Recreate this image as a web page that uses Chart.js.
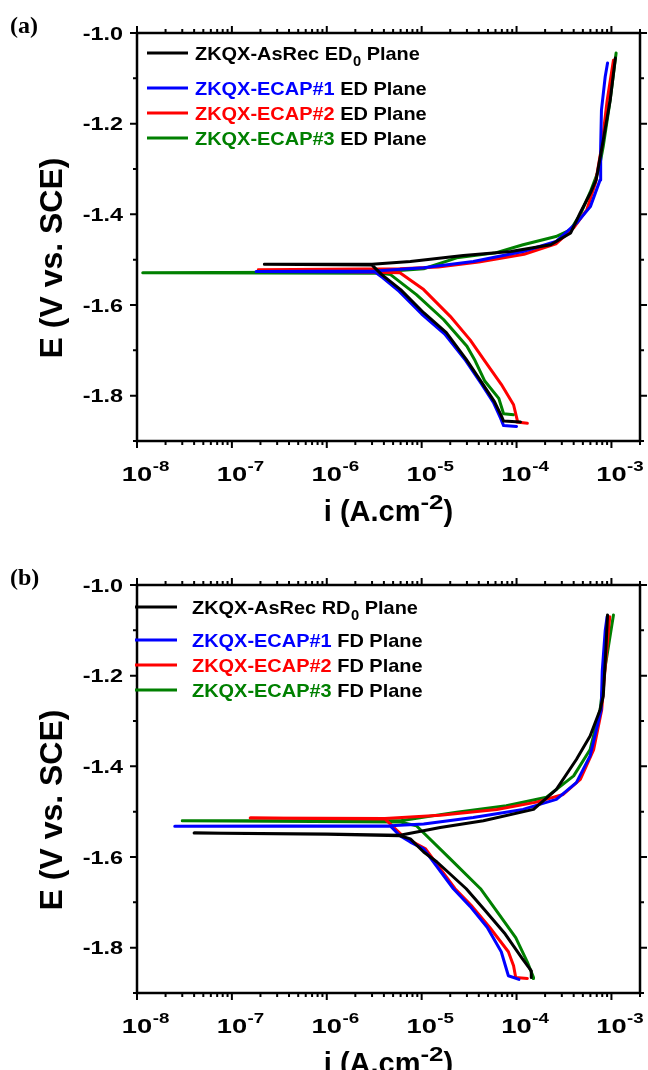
<!DOCTYPE html>
<html>
<head>
<meta charset="utf-8">
<title>Polarization curves</title>
<script src="https://cdn.jsdelivr.net/npm/chart.js@4.4.1/dist/chart.umd.min.js"></script>
<style>
  html, body { margin: 0; padding: 0; background: #fff; overflow: hidden; }
  #wrap { position: relative; width: 648px; height: 1070px; overflow: hidden; }
  .panel { position: absolute; left: 0; width: 648px; height: 535px; }
</style>
</head>
<body>
<div id="wrap">
  <div class="panel" style="top:0"><canvas id="chartA"></canvas></div>
  <div class="panel" style="top:552px"><canvas id="chartB"></canvas></div>
</div>
<script>
// axis ticks
var decades = [-8, -7, -6, -5, -4, -3];
var yTicks = [-1.0, -1.2, -1.4, -1.6, -1.8];
var yMinor = [-1.1, -1.3, -1.5, -1.7, -1.9];

var names = ['ZKQX-AsRec', 'ZKQX-ECAP#1', 'ZKQX-ECAP#2', 'ZKQX-ECAP#3'];
var colors = ['#000000', '#0000ff', '#ff0000', '#008000'];

// panel (a): current density i (A/cm2) and potential E (V vs SCE), in scan order
var aAsRecI = [1.1e-4, 7.3e-5, 6.9e-5, 5.85e-5, 4.17e-5, 2.95e-5, 1.82e-5, 1.05e-5, 6.0e-6, 3.8e-6, 3.0e-6, 2.2e-7, 3.0e-6, 7.6e-6, 2.75e-5, 8.7e-5, 2.29e-4, 3.72e-4, 4.68e-4, 6.0e-4, 6.9e-4, 8.2e-4, 9.7e-4, 1.1e-3];
var aAsRecE = [-1.858, -1.856, -1.844, -1.813, -1.767, -1.720, -1.661, -1.617, -1.566, -1.533, -1.512, -1.510, -1.510, -1.504, -1.491, -1.482, -1.467, -1.441, -1.397, -1.353, -1.324, -1.236, -1.148, -1.055];
var aEcap1I = [1.0e-4, 7.3e-5, 6.8e-5, 5.7e-5, 4.3e-5, 2.9e-5, 1.75e-5, 1.0e-5, 5.8e-6, 3.9e-6, 3.2e-6, 1.8e-7, 3.2e-6, 1.05e-5, 3.5e-5, 1.17e-4, 2.6e-4, 4.3e-4, 6.0e-4, 7.6e-4, 7.7e-4, 7.85e-4, 8.6e-4, 9.1e-4];
var aEcap1E = [-1.868, -1.866, -1.850, -1.815, -1.775, -1.722, -1.664, -1.620, -1.570, -1.540, -1.527, -1.526, -1.525, -1.518, -1.504, -1.482, -1.460, -1.419, -1.383, -1.324, -1.251, -1.170, -1.096, -1.066];
var aEcap2I = [1.3e-4, 1.0e-4, 1.02e-4, 9.3e-5, 6.9e-5, 4.5e-5, 3.24e-5, 2.0e-5, 1.05e-5, 5.9e-6, 1.9e-7, 5.9e-6, 1.5e-5, 4.0e-5, 1.2e-4, 2.6e-4, 4.0e-4, 5.5e-4, 6.8e-4, 7.9e-4, 9.0e-4, 1.05e-3];
var aEcap2E = [-1.861, -1.858, -1.855, -1.820, -1.775, -1.720, -1.677, -1.625, -1.566, -1.529, -1.522, -1.520, -1.516, -1.505, -1.488, -1.465, -1.430, -1.390, -1.330, -1.250, -1.150, -1.060];
var aEcap3I = [9.3e-5, 7.3e-5, 6.5e-5, 4.6e-5, 3.6e-5, 3.0e-5, 1.7e-5, 8.8e-6, 4.7e-6, 3.8e-6, 1.15e-8, 3.5e-6, 1.05e-5, 2.34e-5, 6.0e-5, 1.17e-4, 2.6e-4, 3.7e-4, 4.7e-4, 6.0e-4, 7.4e-4, 8.2e-4, 9.7e-4, 1.12e-3];
var aEcap3E = [-1.842, -1.840, -1.806, -1.767, -1.720, -1.691, -1.632, -1.577, -1.533, -1.530, -1.529, -1.527, -1.520, -1.496, -1.485, -1.467, -1.449, -1.434, -1.400, -1.350, -1.300, -1.250, -1.148, -1.044];

// panel (b)
var bAsRecI = [1.43e-4, 1.43e-4, 1.15e-4, 7.6e-5, 4.57e-5, 2.95e-5, 1.45e-5, 1.05e-5, 7.6e-6, 5.9e-6, 1.0e-6, 4.0e-8, 1.0e-6, 5.9e-6, 1.57e-5, 4.47e-5, 1.51e-4, 2.63e-4, 4.27e-4, 5.96e-4, 7.6e-4, 8.2e-4, 8.7e-4, 9.1e-4];
var bAsRecE = [-1.866, -1.851, -1.824, -1.770, -1.716, -1.670, -1.611, -1.589, -1.560, -1.553, -1.550, -1.547, -1.549, -1.552, -1.535, -1.520, -1.495, -1.451, -1.385, -1.333, -1.275, -1.245, -1.150, -1.066];
var bEcap1I = [1.06e-4, 8.2e-5, 6.9e-5, 4.9e-5, 3.24e-5, 2.16e-5, 1.05e-5, 7.6e-6, 5.9e-6, 4.7e-6, 2.5e-8, 4.7e-6, 1.05e-5, 3.5e-5, 1.17e-4, 2.63e-4, 4.27e-4, 5.96e-4, 7.8e-4, 8.0e-4, 8.6e-4, 9.0e-4];
var bEcap1E = [-1.870, -1.862, -1.809, -1.755, -1.709, -1.670, -1.582, -1.567, -1.553, -1.532, -1.532, -1.531, -1.527, -1.513, -1.495, -1.473, -1.436, -1.377, -1.275, -1.190, -1.100, -1.070];
var bEcap2I = [1.3e-4, 9.8e-5, 9.3e-5, 8.2e-5, 5.2e-5, 3.4e-5, 2.25e-5, 1.1e-5, 6.5e-6, 4.1e-6, 1.56e-7, 4.1e-6, 1.57e-5, 6.2e-5, 1.62e-4, 3.1e-4, 4.7e-4, 6.5e-4, 7.9e-4, 8.6e-4, 9.6e-4];
var bEcap2E = [-1.868, -1.866, -1.840, -1.809, -1.755, -1.709, -1.670, -1.582, -1.556, -1.516, -1.514, -1.515, -1.508, -1.495, -1.479, -1.462, -1.429, -1.363, -1.275, -1.180, -1.070];
var bEcap3I = [1.5e-4, 1.51e-4, 1.3e-4, 9.8e-5, 6.4e-5, 4.17e-5, 2.0e-5, 8.8e-6, 6.0e-6, 3.0e-8, 6.0e-6, 2.34e-5, 7.8e-5, 2.07e-4, 4.0e-4, 5.96e-4, 7.6e-4, 8.6e-4, 1.05e-3];
var bEcap3E = [-1.868, -1.866, -1.832, -1.778, -1.724, -1.670, -1.604, -1.531, -1.523, -1.520, -1.520, -1.501, -1.487, -1.468, -1.421, -1.363, -1.275, -1.180, -1.066];

var SANS = '"Liberation Sans", Arial, sans-serif';

function pts(xs, ys) {
  return xs.map(function (x, k) { return { x: x, y: ys[k] }; });
}

// bold text with a horizontal stretch, returns drawn width
function sText(ctx, s, x, y, size, sx, align, color) {
  ctx.save();
  ctx.font = 'bold ' + size + 'px ' + SANS;
  ctx.fillStyle = color || '#000';
  ctx.textAlign = align || 'left';
  ctx.textBaseline = 'alphabetic';
  ctx.translate(x, y);
  ctx.scale(sx, 1);
  ctx.fillText(s, 0, 0);
  var w = ctx.measureText(s).width * sx;
  ctx.restore();
  return w;
}

var framePlugin = {
  id: 'frame',
  afterDraw: function (chart, args, o) {
    var ctx = chart.ctx, a = chart.chartArea;
    var xs = chart.scales.x, ys = chart.scales.y;
    ctx.save();
    ctx.strokeStyle = '#000';
    ctx.lineWidth = 2.5;
    ctx.strokeRect(a.left, a.top, a.right - a.left, a.bottom - a.top);

    // x ticks (bottom + top, outward)
    ctx.lineWidth = 2;
    decades.forEach(function (d) {
      for (var k = 1; k <= 9; k++) {
        var v = k * Math.pow(10, d);
        if (v > xs.max) break;
        var px = xs.getPixelForValue(v);
        var len = k === 1 ? 7 : 4;
        ctx.beginPath();
        ctx.moveTo(px, a.bottom); ctx.lineTo(px, a.bottom + len);
        ctx.moveTo(px, a.top); ctx.lineTo(px, a.top - len);
        ctx.stroke();
      }
    });
    // y ticks (left + right, outward)
    yTicks.concat(yMinor).forEach(function (v, idx) {
      var py = ys.getPixelForValue(v);
      var len = idx < yTicks.length ? 7 : 4;
      ctx.beginPath();
      ctx.moveTo(a.left, py); ctx.lineTo(a.left - len, py);
      ctx.moveTo(a.right, py); ctx.lineTo(a.right + len, py);
      ctx.stroke();
    });

    // tick labels
    decades.forEach(function (d) {
      var px = xs.getPixelForValue(Math.pow(10, d));
      var w = sText(ctx, '10', px, a.bottom + 40, 21, 1.3, 'center');
      sText(ctx, '-' + Math.abs(d), px + w / 2 + 0.5, a.bottom + 30, 15, 1.25, 'left');
    });
    yTicks.forEach(function (v) {
      var py = ys.getPixelForValue(v);
      sText(ctx, v.toFixed(1), a.left - 14, py + 6.5, 18, 1.3, 'right');
    });

    // axis titles
    ctx.save();
    ctx.translate(62, (a.top + a.bottom) / 2 + 21);
    ctx.rotate(-Math.PI / 2);
    sText(ctx, 'E (V vs. SCE)', 0, 0, 32, 1.0, 'center');
    ctx.restore();

    ctx.font = 'bold 29px ' + SANS;
    var w1 = ctx.measureText('i (A.cm').width;
    ctx.font = 'bold 20px ' + SANS;
    var w2 = ctx.measureText('-2').width * 1.3;
    ctx.font = 'bold 29px ' + SANS;
    var w3 = ctx.measureText(')').width;
    var x0 = (a.left + a.right) / 2 - (w1 + w2 + w3) / 2;
    var by = a.bottom + 80;
    sText(ctx, 'i (A.cm', x0, by, 29, 1, 'left');
    sText(ctx, '-2', x0 + w1, by - 12.5, 20, 1.3, 'left');
    sText(ctx, ')', x0 + w1 + w2, by, 29, 1, 'left');

    // panel label
    ctx.font = 'bold 24px "Liberation Serif", "Times New Roman", serif';
    ctx.fillStyle = '#000';
    ctx.textAlign = 'left';
    ctx.fillText(o.panel, 10, 33);

    // legend
    o.rows.forEach(function (y, r) {
      ctx.strokeStyle = colors[r];
      ctx.lineWidth = 2.8;
      ctx.beginPath();
      ctx.moveTo(o.lx0, y); ctx.lineTo(o.lx1, y);
      ctx.stroke();
      var tx = o.tx, bl = y + 7;
      if (r === 0) {
        tx += sText(ctx, names[0] + ' ' + o.ref, tx, bl, 19, 1.05, 'left');
        tx += sText(ctx, '0', tx + 0.5, bl + 6, 14, 1.05, 'left') + 0.5;
        sText(ctx, ' Plane', tx, bl, 19, 1.05, 'left');
      } else {
        tx += sText(ctx, names[r], tx, bl, 19, 1.05, 'left', colors[r]);
        sText(ctx, ' ' + o.plane + ' Plane', tx, bl, 19, 1.05, 'left');
      }
    });
    ctx.restore();
  }
};

function makeChart(id, series, legendOpts) {
  var datasets = series.map(function (s, k) {
    return {
      label: names[k],
      data: pts(s[0], s[1]),
      showLine: true,
      borderColor: colors[k],
      backgroundColor: colors[k],
      borderWidth: 3,
      borderJoinStyle: 'round',
      borderCapStyle: 'round',
      pointRadius: 0,
      tension: 0
    };
  });
  return new Chart(document.getElementById(id), {
    type: 'scatter',
    data: { datasets: datasets },
    options: {
      responsive: true,
      maintainAspectRatio: false,
      animation: false,
      layout: { padding: { left: 0, right: 8, top: 33, bottom: 0 } },
      plugins: { legend: { display: false }, tooltip: { enabled: false }, frame: legendOpts },
      scales: {
        x: {
          type: 'logarithmic', min: 1e-8, max: 2e-3,
          ticks: { display: false }, grid: { display: false }, border: { display: false },
          afterFit: function (s) { s.height = 535 - 33 - 408; }
        },
        y: {
          type: 'linear', min: -1.9, max: -1.0,
          ticks: { display: false }, grid: { display: false }, border: { display: false },
          afterFit: function (s) { s.width = 137; }
        }
      }
    },
    plugins: [framePlugin]
  });
}

makeChart('chartA',
  [[aAsRecI, aAsRecE], [aEcap1I, aEcap1E], [aEcap2I, aEcap2E], [aEcap3I, aEcap3E]],
  { panel: '(a)', ref: 'ED', plane: 'ED', rows: [53, 88, 113, 138], lx0: 147, lx1: 188, tx: 195 });

makeChart('chartB',
  [[bAsRecI, bAsRecE], [bEcap1I, bEcap1E], [bEcap2I, bEcap2E], [bEcap3I, bEcap3E]],
  { panel: '(b)', ref: 'RD', plane: 'FD', rows: [55, 88, 113, 138], lx0: 135, lx1: 177, tx: 192 });
</script>
</body>
</html>
